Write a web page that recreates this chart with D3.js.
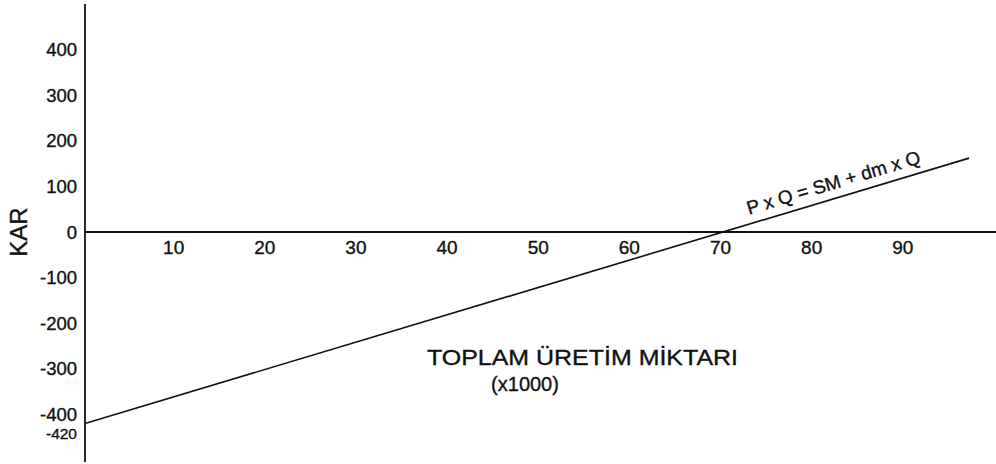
<!DOCTYPE html>
<html><head><meta charset="utf-8">
<script src="https://cdn.jsdelivr.net/npm/d3@7"></script>
<style>body{margin:0;background:#fff}svg{display:block}text{font-family:"Liberation Sans",Arial,sans-serif;fill:#111;stroke:#111;stroke-width:0.35px}</style>
</head><body>
<svg id="c" width="996" height="464"></svg>
<script>
const xTicks = [10, 20, 30, 40, 50, 60, 70, 80, 90];
const yTicks = [400, 300, 200, 100, 0, -100, -200, -300, -400];
const yExtraTick = [-420];
const lineQ = [0, 97];
const lineKar = [-420, 162];
const yLabel = "KAR";
const xLabel1 = "TOPLAM ÜRETİM MİKTARI";
const xLabel2 = "(x1000)";
const lineLabel = "P x Q = SM + dm x Q";

const svg = d3.select("#c");
const x = d3.scaleLinear().domain([0, 70]).range([85, 723]);
const y = d3.scaleLinear().domain([0, 400]).range([232, 49.6]);

// y axis line
svg.append("line").attr("x1", 85).attr("x2", 85).attr("y1", 4).attr("y2", 462)
  .attr("stroke", "#111").attr("stroke-width", 1.8);
// zero line
svg.append("line").attr("x1", 85).attr("x2", 996).attr("y1", y(0)).attr("y2", y(0))
  .attr("stroke", "#111").attr("stroke-width", 1.8);

// y tick labels
svg.selectAll(".yt").data(yTicks).enter().append("text")
  .attr("x", 77).attr("y", d => y(d)).attr("dy", "0.36em")
  .attr("text-anchor", "end").attr("font-size", 18.5).text(d => d);
svg.selectAll(".ye").data(yExtraTick).enter().append("text")
  .attr("x", 77).attr("y", d => y(d) + 9.5).attr("dy", "0.36em")
  .attr("text-anchor", "end").attr("font-size", 15.5).text(d => d);

// x tick labels
svg.selectAll(".xt").data(xTicks).enter().append("text")
  .attr("x", d => x(d) - 2.5).attr("y", 247).attr("dy", "0.36em")
  .attr("text-anchor", "middle").attr("font-size", 19).text(d => d);

// line
const pts = lineQ.map((q, i) => [q, lineKar[i]]);
svg.append("path").datum(pts)
  .attr("d", d3.line().x(d => x(d[0])).y(d => y(d[1])))
  .attr("fill", "none").attr("stroke", "#111").attr("stroke-width", 1.6);

// line label
const ang = Math.atan2(y(lineKar[1]) - y(lineKar[0]), x(lineQ[1]) - x(lineQ[0])) * 180 / Math.PI;
const lq = 82.6, lk = -420 + 6 * lq;
svg.append("text")
  .attr("transform", `translate(${x(lq)},${y(lk)}) rotate(${ang}) translate(0,-9)`)
  .attr("text-anchor", "middle").attr("font-size", 19).text(lineLabel);

// axis labels
svg.append("text").attr("transform", `translate(27,${y(0)}) rotate(-90)`)
  .attr("text-anchor", "middle").attr("font-size", 24).text(yLabel);
svg.append("text").attr("x", 427).attr("y", 365).attr("text-anchor", "start")
  .attr("font-size", 22).attr("textLength", 311).attr("lengthAdjust", "spacingAndGlyphs")
  .text(xLabel1);
svg.append("text").attr("x", 525).attr("y", 391).attr("text-anchor", "middle")
  .attr("font-size", 20).text(xLabel2);
</script>
</body></html>
